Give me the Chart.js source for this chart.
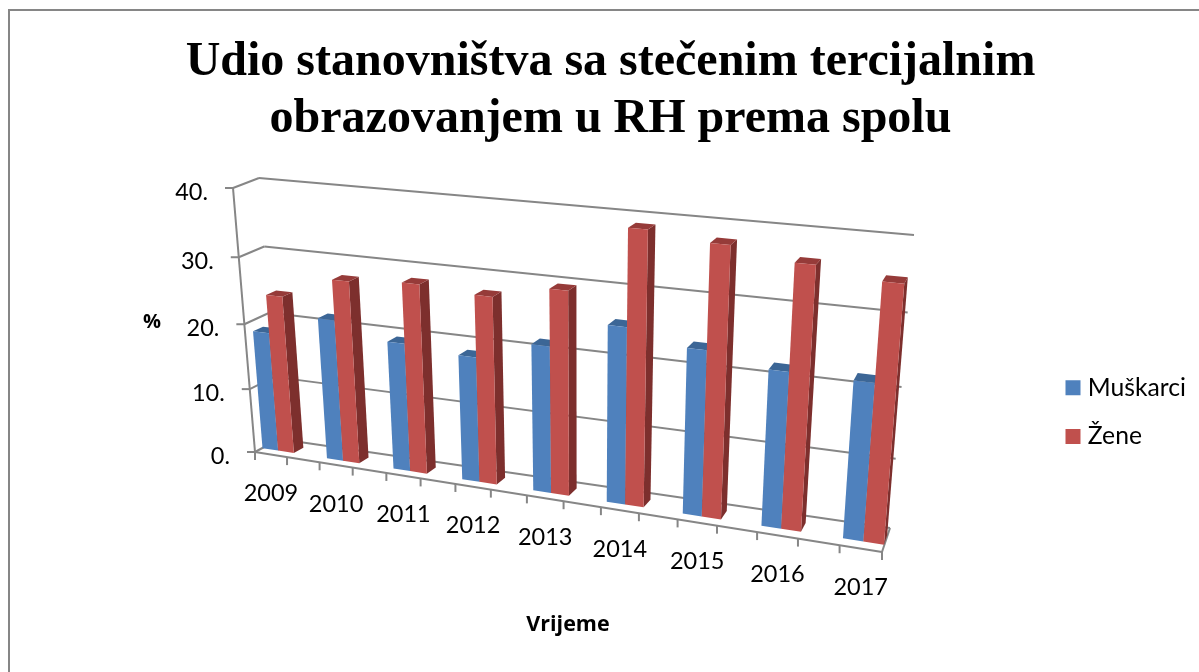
<!DOCTYPE html>
<html>
<head>
<meta charset="utf-8">
<script src="https://cdn.jsdelivr.net/npm/chart.js@4"></script>
<style>
  html, body { margin: 0; background: #fff; }
  body { overflow: hidden; width: 1199px; height: 672px; }
  #frame { position: absolute; left: 8px; top: 9px; width: 1199px; height: 672px; border: 2px solid #868686; box-sizing: border-box; }
  canvas { position: absolute; left: 0; top: 0; }
</style>
</head>
<body>
<div id="frame"></div>
<canvas id="myChart" width="1199" height="672"></canvas>
<script>
var years = ["2009", "2010", "2011", "2012", "2013", "2014", "2015", "2016", "2017"];
var muskarci = [18.4, 21.6, 19.4, 18.7, 21.6, 25.6, 23.7, 22.1, 22];
var zene = [24.2, 27.6, 28.3, 27.7, 29.7, 39, 38, 36.5, 35.2];
var yTicks = [0, 10, 20, 30, 40];

// perspective box of the 3D plot, corners are bottom-left, bottom-right, top-right, top-left
var frontWall = [[255, 452], [882, 552], [905, 250], [233, 188]];
var backWall = [[279, 439], [890, 528], [914, 235], [259, 178]];
var barDepth = [0.3, 0.7];
var gridColor = "#868686";

function homography(q) {
  var dx1 = q[1][0] - q[2][0], dx2 = q[3][0] - q[2][0], sx = q[0][0] - q[1][0] + q[2][0] - q[3][0];
  var dy1 = q[1][1] - q[2][1], dy2 = q[3][1] - q[2][1], sy = q[0][1] - q[1][1] + q[2][1] - q[3][1];
  var det = dx1 * dy2 - dx2 * dy1;
  var g = (sx * dy2 - dx2 * sy) / det;
  var h = (dx1 * sy - sx * dy1) / det;
  return function(u, v) {
    var w = g * u + h * v + 1;
    return [
      ((q[1][0] - q[0][0] + g * q[1][0]) * u + (q[3][0] - q[0][0] + h * q[3][0]) * v + q[0][0]) / w,
      ((q[1][1] - q[0][1] + g * q[1][1]) * u + (q[3][1] - q[0][1] + h * q[3][1]) * v + q[0][1]) / w
    ];
  };
}
var front = homography(frontWall);
var back = homography(backWall);

function project(u, v, d) {
  var a = front(u, v), b = back(u, v);
  return [a[0] + (b[0] - a[0]) * d, a[1] + (b[1] - a[1]) * d];
}

function line(ctx, a, b) {
  ctx.beginPath();
  ctx.moveTo(a[0], a[1]);
  ctx.lineTo(b[0], b[1]);
  ctx.stroke();
}

function face(ctx, color, pts) {
  ctx.fillStyle = color;
  ctx.beginPath();
  pts.forEach(function(p, i) {
    if (i == 0) ctx.moveTo(p[0], p[1]);
    else ctx.lineTo(p[0], p[1]);
  });
  ctx.closePath();
  ctx.fill();
}

// scale pixel to plot fraction
function toU(chart, px) {
  var x = chart.scales.x;
  return (0.5 + 16 * (px - x.left) / x.width) / 17;
}
function toV(chart, py) {
  var y = chart.scales.y;
  return (y.bottom - py) / y.height;
}

var bars3d = {
  id: "bars3d",
  beforeDatasetsDraw: function(chart) {
    var ctx = chart.ctx, y = chart.scales.y;
    ctx.save();
    ctx.strokeStyle = gridColor;
    ctx.lineWidth = 2;
    y.ticks.forEach(function(t) {
      var v = toV(chart, y.getPixelForValue(t.value));
      line(ctx, project(0, v, 1), project(1, v, 1));
      line(ctx, project(0, v, 0), project(0, v, 1));
      var p = project(0, v, 0);
      line(ctx, [p[0] - 8, p[1]], p);
      ctx.fillStyle = "#000";
      ctx.font = "23.5px Lato";
      ctx.textAlign = "right";
      ctx.textBaseline = "middle";
      ctx.fillText(t.label, p[0] - 25, p[1] + 4);
    });
    line(ctx, project(0, 0, 0), project(0, 1, 0));
    line(ctx, project(0, 0, 0), project(1, 0, 0));
    line(ctx, project(1, 0, 0), project(1, 0, 1));
    for (var k = 0; k < 18; k++) {
      var p = project(k / 17, 0, 0);
      line(ctx, p, [p[0], p[1] + 8]);
    }
    ctx.fillStyle = "#000";
    ctx.font = "23.5px Lato";
    ctx.textAlign = "center";
    ctx.textBaseline = "middle";
    chart.scales.x.ticks.forEach(function(t, i) {
      var p = project(toU(chart, chart.scales.x.getPixelForTick(i)), 0, 0);
      ctx.fillText(t.label, p[0], p[1] + 39);
    });
    ctx.font = "bold 21.5px 'Open Sans'";
    ctx.fillText("Vrijeme", 568, 625);
    ctx.font = "bold 20px 'Open Sans'";
    ctx.fillText("%", 152, 322);
    ctx.restore();
  },
  beforeDatasetDraw: function() {
    return false;
  },
  afterDatasetsDraw: function(chart) {
    var ctx = chart.ctx;
    var d0 = barDepth[0], d1 = barDepth[1];
    years.forEach(function(year, i) {
      chart.data.datasets.forEach(function(ds, s) {
        var el = chart.getDatasetMeta(s).data[i];
        var u0 = toU(chart, el.x - el.width / 2), u1 = toU(chart, el.x + el.width / 2);
        var v = toV(chart, el.y);
        face(ctx, ds.sideColor, [project(u1, 0, d0), project(u1, 0, d1), project(u1, v, d1), project(u1, v, d0)]);
        face(ctx, ds.topColor, [project(u0, v, d0), project(u1, v, d0), project(u1, v, d1), project(u0, v, d1)]);
        face(ctx, ds.backgroundColor, [project(u0, 0, d0), project(u1, 0, d0), project(u1, v, d0), project(u0, v, d0)]);
      });
    });
  }
};

new Chart(document.getElementById("myChart").getContext("2d"), {
  type: "bar",
  data: {
    labels: years,
    datasets: [
      { label: "Muškarci", data: muskarci, backgroundColor: "#4F81BD", topColor: "#3C6696", sideColor: "#2F5380" },
      { label: "Žene", data: zene, backgroundColor: "#C0504D", topColor: "#963B39", sideColor: "#7D2F2D" }
    ]
  },
  options: {
    responsive: false,
    animation: false,
    layout: { padding: { left: 25, right: 3, top: 16, bottom: 6 } },
    datasets: { bar: { categoryPercentage: 0.49, barPercentage: 1 } },
    scales: {
      x: { display: false, offset: false },
      y: {
        display: false,
        min: 0,
        max: 40,
        afterBuildTicks: function(s) { s.ticks = yTicks.map(function(v) { return { value: v }; }); },
        ticks: { callback: function(v) { return v + "."; } }
      }
    },
    plugins: {
      title: {
        display: true,
        text: ["Udio stanovništva sa stečenim tercijalnim", "obrazovanjem u RH prema spolu"],
        color: "#000",
        font: { family: "Liberation Serif", weight: "bold", size: 48, lineHeight: 1.19 },
        padding: { top: 18, bottom: 10 }
      },
      legend: {
        position: "right",
        fullSize: false,
        labels: {
          color: "#000",
          font: { family: "Lato", size: 24.7 },
          usePointStyle: true,
          pointStyle: "rect",
          boxWidth: 5,
          boxHeight: 15,
          padding: 24
        }
      },
      tooltip: { enabled: false }
    }
  },
  plugins: [bars3d]
});
</script>
</body>
</html>
